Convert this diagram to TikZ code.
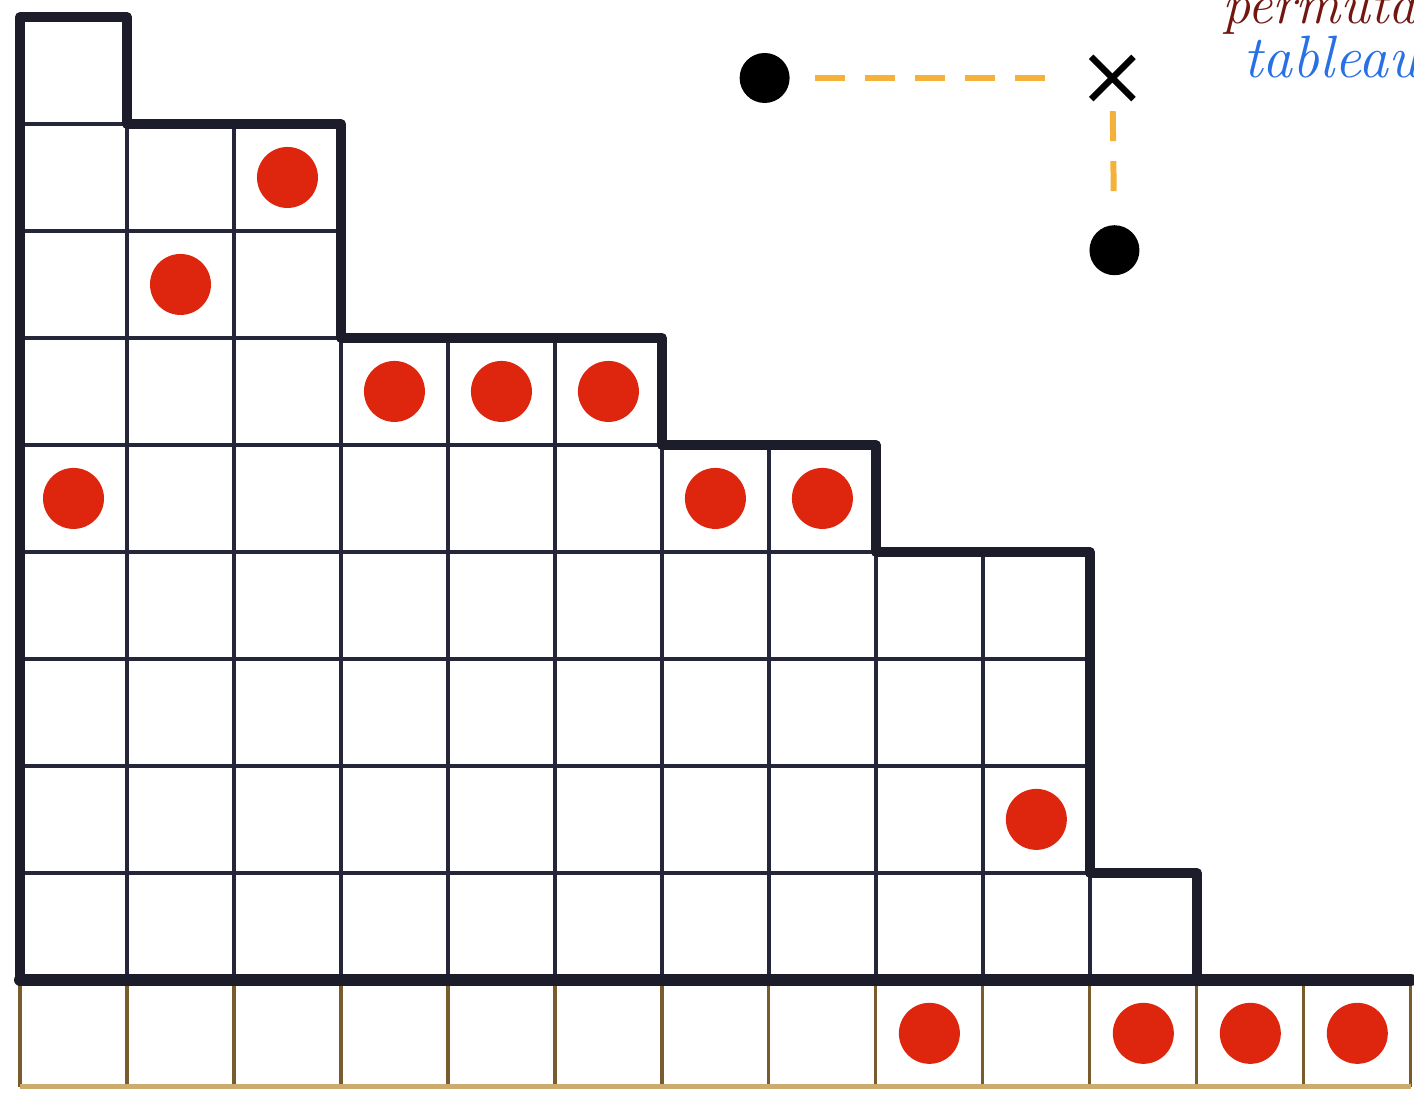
\documentclass[tikz,border=0pt]{standalone}
\usepackage{tikz}
\usetikzlibrary{shapes.misc,positioning}
\definecolor{inkgrid}{RGB}{38,38,58}
\definecolor{inkbold}{RGB}{28,28,42}
\definecolor{inkbrown}{RGB}{120,92,45}
\definecolor{inktan}{RGB}{205,170,110}
\definecolor{dotred}{RGB}{222,38,14}
\definecolor{dashorange}{RGB}{245,178,58}
\definecolor{notered}{RGB}{115,22,16}
\definecolor{noteblue}{RGB}{40,112,230}

\begin{document}
\begin{tikzpicture}[
    x=1.07cm, y=1.07cm,
    cellgrid/.style={draw=inkgrid, line width=1.1pt, step=1},
    outline/.style={draw=inkbold, line width=2.8pt, line join=round, line cap=round},
    baseline/.style={draw=inkbold, line width=3.4pt, line cap=round},
    stripgrid/.style={draw=inkbrown, line width=0.9pt},
    stripbase/.style={draw=inktan, line width=1.4pt},
    rdot/.style={circle, fill=dotred, inner sep=0pt, minimum width=0.57cm, minimum height=0.61cm},
    bdot/.style={circle, fill=black, inner sep=0pt, minimum size=0.5cm},
    crossmark/.style={cross out, draw=black, line width=1.8pt, minimum size=0.36cm, inner sep=0pt},
    hook/.style={draw=dashorange, line width=1.7pt, dash pattern=on 0.3cm off 0.2cm},
    notetext/.style={font=\fontsize{17}{20}\selectfont\itshape, inner sep=0pt, anchor=base west}
]
\useasboundingbox (-0.187,-1.065) rectangle (13.03,9.159);
\path[clip] (-0.187,-1.065) rectangle (13.03,9.159);

% cells of the diagram, row by row from the bottom
\foreach \r/\len in {1/11, 2/10, 3/10, 4/10, 5/8, 6/6, 7/3, 8/3, 9/1}
    \draw[cellgrid] (0,\r-1) grid (\len,\r);

% strip under the diagram
\foreach \i in {0,...,13}
    \draw[stripgrid] (\i,0) -- (\i,-1);
\draw[stripbase] (0,-1) -- (13,-1);

% border of the shape
\draw[outline] (0,0) -- (0,9) -- (1,9) -- (1,8) -- (3,8) -- (3,6) -- (6,6)
    -- (6,5) -- (8,5) -- (8,4) -- (10,4) -- (10,1) -- (11,1) -- (11,0);
\draw[baseline] (0,0) -- (13,0);

% red points
\foreach \c/\r in {3/8, 2/7, 4/6, 5/6, 6/6, 1/5, 7/5, 8/5, 10/2, 9/0, 11/0, 12/0, 13/0}
    \node[rdot] (d\c-\r) at (\c-0.5,\r-0.5) {};

% the rule, top right
\node[bdot] (left) at (6.96,8.43) {};
\node[crossmark] (cross) at (10.21,8.43) {};
\node[bdot] (below) at (10.23,6.82) {};
\draw[hook, shorten <=0.25cm, shorten >=0.45cm] (left) -- (cross);
\draw[hook, shorten <=0.12cm, shorten >=0.2cm] (cross) -- (below);

\node[notetext, text=notered, font=\fontsize{16}{19}\selectfont\itshape] (perm) at (11.23,8.94) {permutation};
\node[notetext, text=noteblue] (tab) at (11.43,8.43) {tableaux};
\end{tikzpicture}
\end{document}
